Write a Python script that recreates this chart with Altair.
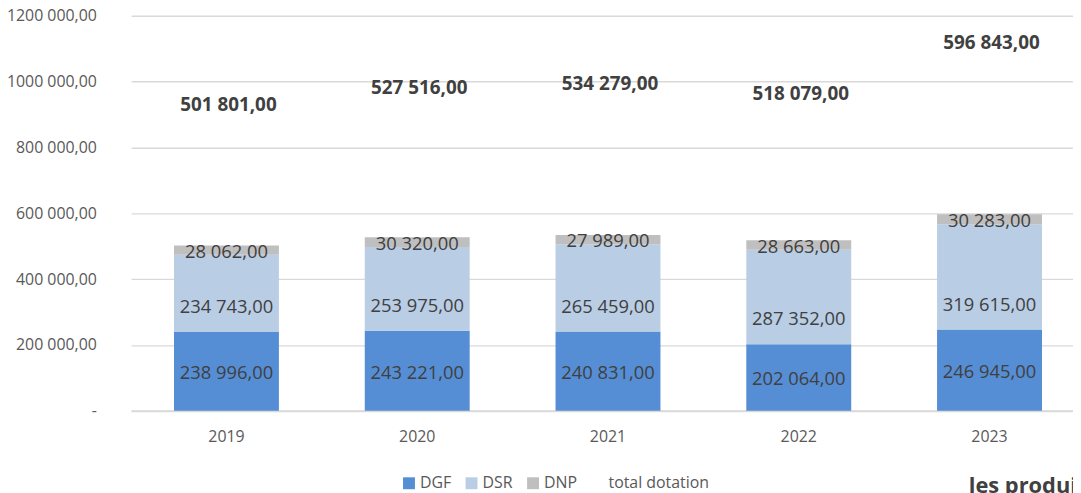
import altair as alt
import pandas as pd

years = ["2019", "2020", "2021", "2022", "2023"]
dgf = [238996, 243221, 240831, 202064, 246945]
dsr = [234743, 253975, 265459, 287352, 319615]
dnp = [28062, 30320, 27989, 28663, 30283]
total = [501801, 527516, 534279, 518079, 596843]

series_names = ["DGF", "DSR", "DNP", "total dotation"]
series_colors = ["#558ED5", "#B9CDE5", "#BFBFBF", "transparent"]
y_ticks = [0, 200000, 400000, 600000, 800000, 1000000, 1200000]


def fr(v):
    return f"{v:,.2f}".replace(",", " ").replace(".", ",")


rows = []
for i, yr in enumerate(years):
    for order, (name, vals) in enumerate([("DGF", dgf), ("DSR", dsr), ("DNP", dnp)]):
        rows.append({"year": yr, "series": name, "value": vals[i],
                     "order": order, "label": fr(vals[i])})
df = pd.DataFrame(rows)
df_tot = pd.DataFrame({"year": years, "total": total, "label": [fr(v) for v in total]})
df_note = pd.DataFrame({"t": ["les produits"]})

FONT = "Open Sans"
x_scale = alt.Scale(paddingInner=0.45, paddingOuter=0.225)
x_axis = alt.Axis(labelAngle=0, ticks=False, domainColor="#D9D9D9", domainWidth=2,
                  labelFont=FONT, labelFontSize=16, labelColor="#595959",
                  labelPadding=18, grid=False)


def xe():
    return alt.X("year:N", title=None, sort=years, scale=x_scale, axis=x_axis)


y_scale = alt.Scale(domain=[0, 1200000])
y_axis = alt.Axis(values=y_ticks, domain=False, ticks=False, gridColor="#D9D9D9",
                  gridWidth=1.3, labelFont=FONT, labelFontSize=16,
                  labelColor="#595959", labelPadding=35,
                  labelExpr="datum.value == 0 ? '-\u00a0\u00a0' : floor(datum.value / 1000) + ' 000,00'")

base = alt.Chart(df)

bars = base.mark_bar().encode(
    x=xe(),
    y=alt.Y("value:Q", stack="zero", scale=y_scale, title=None, axis=y_axis),
    color=alt.Color("series:N", scale=alt.Scale(domain=series_names, range=series_colors),
                    legend=alt.Legend(title=None, orient="none", legendX=272, legendY=463,
                                      direction="horizontal", symbolType="square",
                                      symbolSize=144, symbolStrokeWidth=0,
                                      labelFont=FONT, labelFontSize=16, labelColor="#595959",
                                      labelOffset=3, columnPadding=12, padding=0)),
    order=alt.Order("order:Q"),
)

lab = base.transform_stack(
    stack="value", groupby=["year"], as_=["v0", "v1"],
    sort=[alt.SortField("order", order="ascending")],
).transform_calculate(mid="(datum.v0 + datum.v1) / 2")

lab_c = lab.transform_filter("datum.series != 'DSR'").mark_text(
    font=FONT, fontSize=18.5, color="#404040", dy=2
).encode(x=xe(), y=alt.Y("mid:Q", scale=y_scale, title=None, axis=y_axis),
         text="label:N")

lab_b = lab.transform_filter("datum.series == 'DSR'").mark_text(
    font=FONT, fontSize=18.5, color="#404040", dy=-25
).encode(x=xe(), y=alt.Y("v0:Q", scale=y_scale, title=None, axis=y_axis),
         text="label:N")

inner = alt.layer(bars, lab_c, lab_b)

tot = alt.Chart(df_tot).mark_text(
    font=FONT, fontSize=19, fontWeight="bold", color="#404040", dy=25, dx=2
).encode(x=xe(),
         y=alt.Y("total:Q", scale=alt.Scale(domain=[0, 600000]), axis=None),
         text="label:N")

note = alt.Chart(df_note).mark_text(
    font=FONT, fontSize=22, fontWeight="bold", color="#404040", align="left",
    baseline="alphabetic"
).encode(x=alt.value(844), y=alt.value(481), text="t:N")

chart = alt.layer(inner, tot, note).resolve_scale(y="independent").properties(
    width=961, height=398,
    autosize=alt.AutoSizeParams(type="none"),
    padding={"left": 124, "top": 6, "right": -12, "bottom": 81},
).configure_view(stroke=None)

chart.save("out.html", embed_options={"renderer": "svg", "actions": False})
